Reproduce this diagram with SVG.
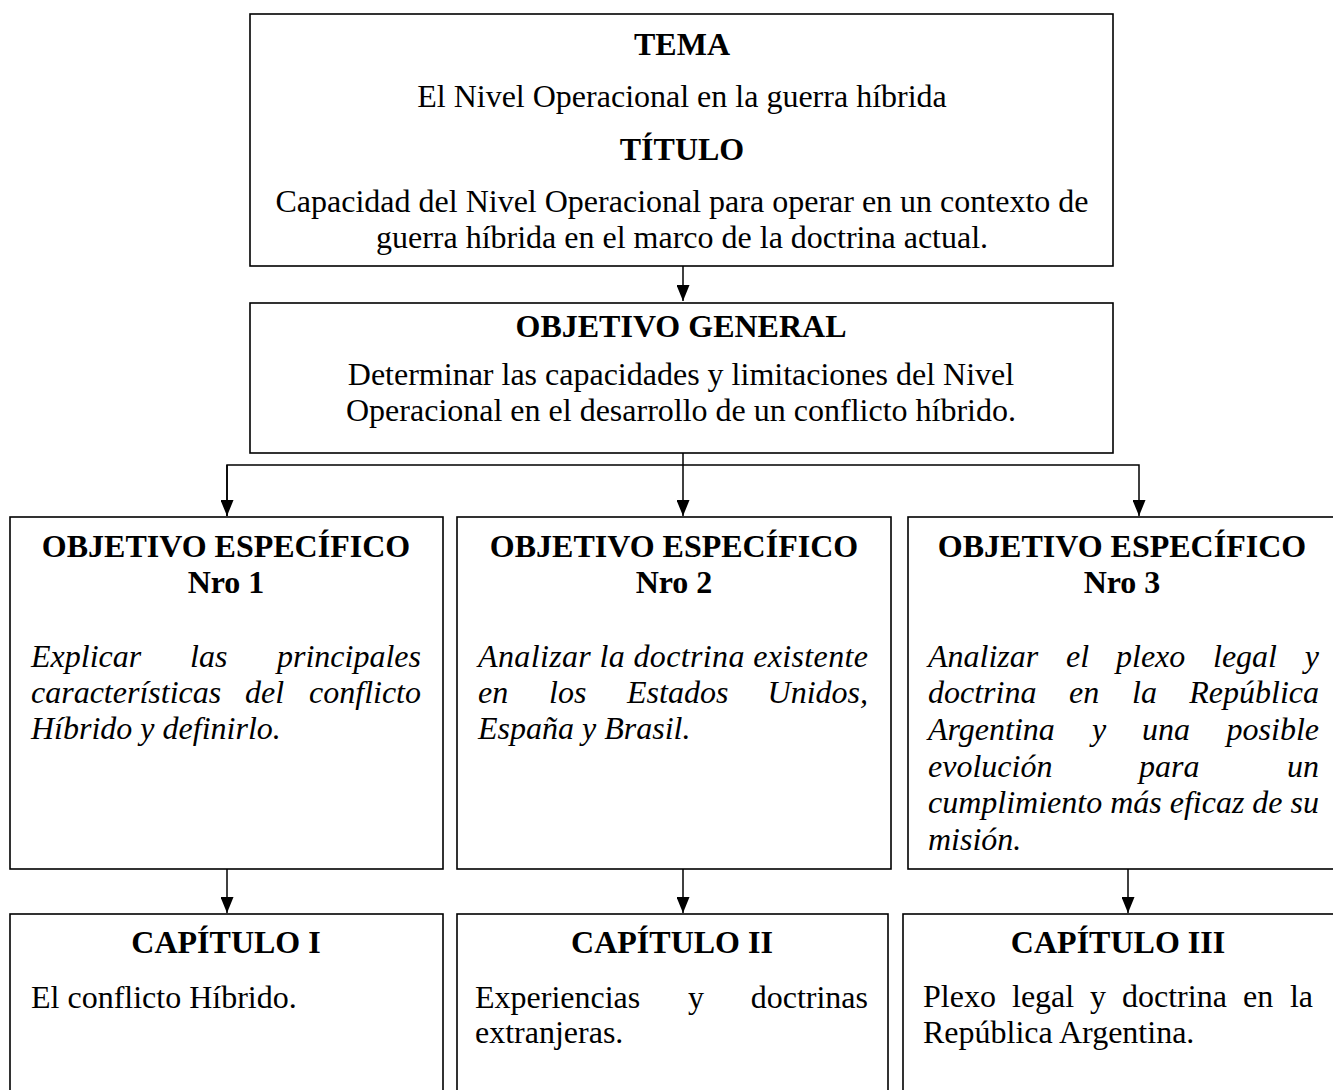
<svg xmlns="http://www.w3.org/2000/svg" width="1333" height="1090" viewBox="0 0 1333 1090">
<style>
  .box { fill: #fff; stroke: #000; stroke-width: 1.6; }
  .t { font-family: "Liberation Serif", "Times New Roman", serif; font-size: 32px; fill: #000; }
  .b { font-weight: bold; }
  .i { font-style: italic; }
  .c { text-anchor: middle; }
  .ln { fill: none; stroke: #000; stroke-width: 1.5; }
</style>
<defs>
  <marker id="ah" viewBox="0 0 16 13" refX="16" refY="6.5" markerWidth="16" markerHeight="13" markerUnits="userSpaceOnUse" orient="auto">
    <path d="M0,0 L16,6.5 L0,13 z" fill="#000"/>
  </marker>
</defs>
<rect width="1333" height="1090" fill="#fff"/>

<g id="connectors">
  <line class="ln" x1="683" y1="266" x2="683" y2="301" marker-end="url(#ah)"/>
  <line class="ln" x1="683" y1="453" x2="683" y2="516" marker-end="url(#ah)"/>
  <polyline class="ln" points="227,516 227,465 1139,465 1139,516" marker-end="url(#ah)"/>
  <line class="ln" x1="227" y1="465" x2="227" y2="516" marker-end="url(#ah)"/>
  <line class="ln" x1="227" y1="869" x2="227" y2="913" marker-end="url(#ah)"/>
  <line class="ln" x1="683" y1="869" x2="683" y2="913" marker-end="url(#ah)"/>
  <line class="ln" x1="1128" y1="869" x2="1128" y2="913" marker-end="url(#ah)"/>
</g>

<g id="tema">
  <rect class="box" x="250" y="14" width="863" height="252"/>
  <text class="t b c" x="682" y="55">TEMA</text>
  <text class="t c" x="682" y="107">El Nivel Operacional en la guerra híbrida</text>
  <text class="t b c" x="682" y="160">TÍTULO</text>
  <text class="t c" x="682" y="212">Capacidad del Nivel Operacional para operar en un contexto de</text>
  <text class="t c" x="682" y="248">guerra híbrida en el marco de la doctrina actual.</text>
</g>

<g id="objetivo-general">
  <rect class="box" x="250" y="303" width="863" height="150"/>
  <text class="t b c" x="681" y="337">OBJETIVO GENERAL</text>
  <text class="t c" x="681" y="385">Determinar las capacidades y limitaciones del Nivel</text>
  <text class="t c" x="681" y="421">Operacional en el desarrollo de un conflicto híbrido.</text>
</g>

<g id="objetivo-1">
  <rect class="box" x="10" y="517" width="433" height="352"/>
  <text class="t b c" x="226" y="557">OBJETIVO ESPECÍFICO</text>
  <text class="t b c" x="226" y="593">Nro 1</text>
  <text class="t i" y="667"><tspan x="31">Explicar</tspan><tspan x="190">las</tspan><tspan x="421" text-anchor="end">principales</tspan></text>
  <text class="t i" y="703"><tspan x="31">características</tspan><tspan x="245">del</tspan><tspan x="421" text-anchor="end">conflicto</tspan></text>
  <text class="t i" x="31" y="739">Híbrido y definirlo.</text>
</g>

<g id="objetivo-2">
  <rect class="box" x="457" y="517" width="434" height="352"/>
  <text class="t b c" x="674" y="557">OBJETIVO ESPECÍFICO</text>
  <text class="t b c" x="674" y="593">Nro 2</text>
  <text class="t i" x="478" y="667" textLength="390" lengthAdjust="spacing">Analizar la doctrina existente</text>
  <text class="t i" y="703"><tspan x="478">en</tspan><tspan x="549">los</tspan><tspan x="627">Estados</tspan><tspan x="868" text-anchor="end">Unidos,</tspan></text>
  <text class="t i" x="478" y="739">España y Brasil.</text>
</g>

<g id="objetivo-3">
  <rect class="box" x="908" y="517" width="430" height="352"/>
  <text class="t b c" x="1122" y="557">OBJETIVO ESPECÍFICO</text>
  <text class="t b c" x="1122" y="593">Nro 3</text>
  <text class="t i" y="667"><tspan x="928">Analizar</tspan><tspan x="1066">el</tspan><tspan x="1116">plexo</tspan><tspan x="1213">legal</tspan><tspan x="1319" text-anchor="end">y</tspan></text>
  <text class="t i" y="703"><tspan x="928">doctrina</tspan><tspan x="1069">en</tspan><tspan x="1132">la</tspan><tspan x="1319" text-anchor="end">República</tspan></text>
  <text class="t i" y="740"><tspan x="928">Argentina</tspan><tspan x="1092">y</tspan><tspan x="1142">una</tspan><tspan x="1319" text-anchor="end">posible</tspan></text>
  <text class="t i" y="777"><tspan x="928">evolución</tspan><tspan x="1139">para</tspan><tspan x="1319" text-anchor="end">un</tspan></text>
  <text class="t i" x="928" y="813" textLength="391" lengthAdjust="spacing">cumplimiento más eficaz de su</text>
  <text class="t i" x="928" y="850">misión.</text>
</g>

<g id="capitulo-1">
  <rect class="box" x="10" y="914" width="433" height="190"/>
  <text class="t b c" x="226" y="953">CAPÍTULO I</text>
  <text class="t" x="31" y="1008">El conflicto Híbrido.</text>
</g>

<g id="capitulo-2">
  <rect class="box" x="457" y="914" width="431" height="190"/>
  <text class="t b c" x="672" y="953">CAPÍTULO II</text>
  <text class="t" y="1008"><tspan x="475">Experiencias</tspan><tspan x="688">y</tspan><tspan x="868" text-anchor="end">doctrinas</tspan></text>
  <text class="t" x="475" y="1043">extranjeras.</text>
</g>

<g id="capitulo-3">
  <rect class="box" x="903" y="914" width="435" height="190"/>
  <text class="t b c" x="1118" y="953">CAPÍTULO III</text>
  <text class="t" y="1007"><tspan x="923">Plexo</tspan><tspan x="1012">legal</tspan><tspan x="1090">y</tspan><tspan x="1122">doctrina</tspan><tspan x="1243">en</tspan><tspan x="1313" text-anchor="end">la</tspan></text>
  <text class="t" x="923" y="1043">República Argentina.</text>
</g>
</svg>
